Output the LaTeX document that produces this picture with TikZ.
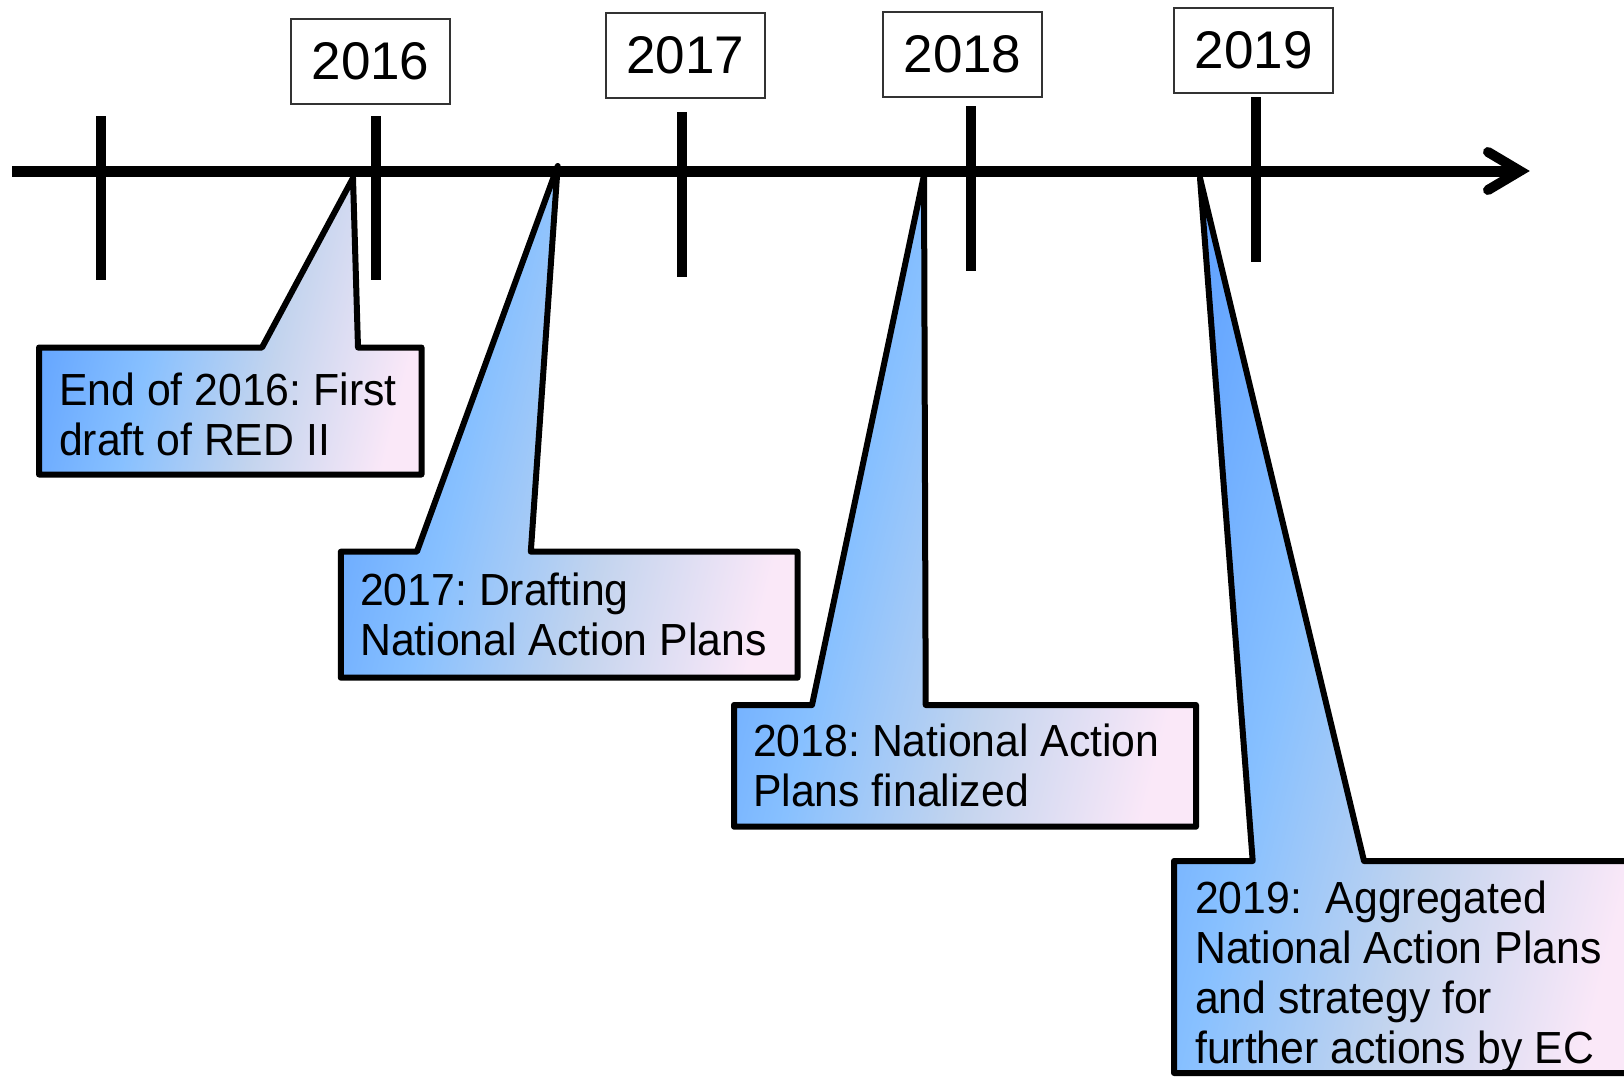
\documentclass[tikz,border=0pt]{standalone}
\usepackage{fontspec}
\setmainfont{Liberation Sans}
\newfontfamily\callfont[FakeStretch=0.95]{Liberation Sans}
\definecolor{cA}{RGB}{100,165,255}
\definecolor{cB}{RGB}{135,192,255}
\definecolor{cC}{RGB}{195,212,238}
\definecolor{cD}{RGB}{250,232,248}
\pgfdeclarehorizontalshading{calshade}{100bp}{color(0bp)=(cA); color(25bp)=(cA); color(40bp)=(cB); color(57bp)=(cC); color(75bp)=(cD); color(100bp)=(cD)}
\tikzset{
  axisline/.style={line width=11pt},
  tickline/.style={line width=10pt},
  chevron/.style={line width=10pt, line cap=round, line join=miter},
  yearbox/.style={draw=black!80, line width=2pt, fill=white, minimum width=159pt, minimum height=85pt, inner sep=0pt, font=\fontsize{53}{60}\selectfont},
  callout/.style={draw=black, line width=6pt, line join=round, shading=calshade, shading angle=-14},
  calltext/.style={anchor=north west, inner sep=0pt, align=left, font=\callfont\fontsize{45}{50}\selectfont},
}
\begin{document}
\frenchspacing
\begin{tikzpicture}[x=1pt,y=-1pt]
\useasboundingbox (0,0) rectangle (1624,1076);
% axis
\coordinate (axL) at (12,171);
\coordinate (axR) at (1520,171);
\draw[axisline] (axL) -- (axR);
\draw[chevron] (1488,152) -- (axR) -- (1488,190);
% ticks
\draw[tickline] (100.5,116) -- (100.5,280);
\draw[tickline] (375.5,116) -- (375.5,280);
\draw[tickline] (681.5,112) -- (681.5,277);
\draw[tickline] (970.5,106) -- (970.5,271);
\draw[tickline] (1256,97) -- (1256,262);
% year boxes
\node[yearbox] (y16) at (370.5,61.3) {2016};
\node[yearbox] (y17) at (685.2,55.2) {2017};
\node[yearbox] (y18) at (962.5,54.3) {2018};
\node[yearbox] (y19) at (1253.7,50.2) {2019};
% callout tips
\coordinate (p1) at (353,178);
\coordinate (p2) at (557.7,166);
\coordinate (p3) at (924,175);
\coordinate (p4) at (1200,178);
% callouts
\path[callout] (39,347.5) -- (262,347.5) -- (p1) -- (358,347.5) -- (421.5,347.5) -- (421.5,474.5) -- (39,474.5) -- cycle;
\path[callout] (340.8,551.7) -- (416.9,551.7) -- (p2) -- (530.8,551.7) -- (797.5,551.7) -- (797.5,677.7) -- (340.8,677.7) -- cycle;
\path[callout] (734,705) -- (812,705) -- (p3) -- (925.7,705) -- (1196,705) -- (1196,826.7) -- (734,826.7) -- cycle;
\path[callout] (1174,861) -- (1252.7,861) -- (p4) -- (1364,861) -- (1640,861) -- (1640,1073) -- (1174,1073) -- cycle;
% texts
\node[calltext] (t1) at (59,371) {\rule{0pt}{34pt}End of 2016: First\\draft of RED II};
\node[calltext] (t2) at (360,571) {\rule{0pt}{34pt}2017: Drafting\\National Action Plans};
\node[calltext] (t3) at (753,722) {\rule{0pt}{34pt}2018: National Action\\Plans finalized};
\node[calltext] (t4) at (1195,879) {\rule{0pt}{34pt}2019:\ \ Aggregated\\National Action Plans\\and strategy for\\further actions by EC};
\end{tikzpicture}
\end{document}
